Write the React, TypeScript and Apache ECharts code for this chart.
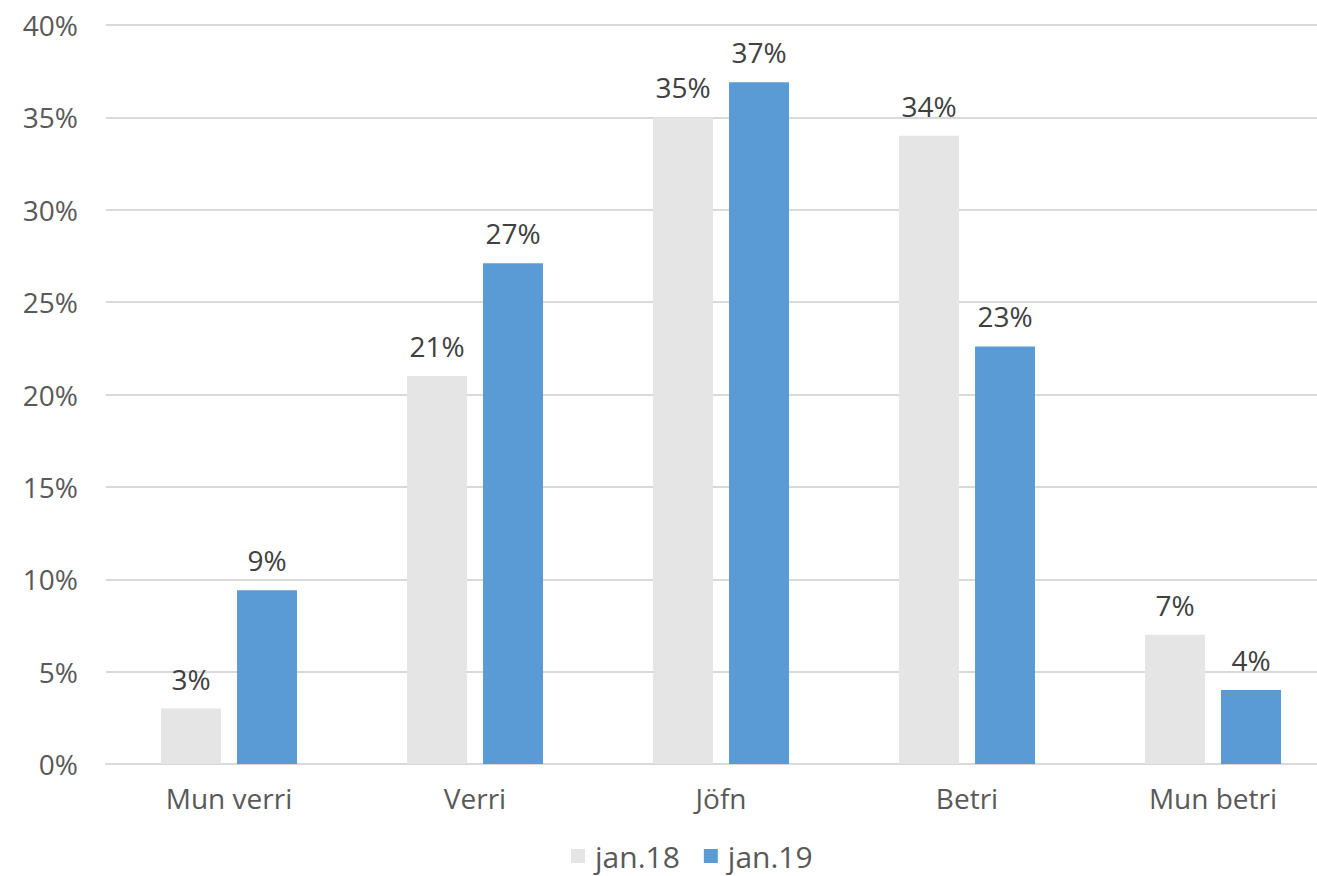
import React, { useEffect, useRef } from "react";
import * as echarts from "echarts";

const categories = ["Mun verri", "Verri", "Jöfn", "Betri", "Mun betri"];
const seriesNames = ["jan.18", "jan.19"];
const jan18 = [3.0, 21.0, 35.0, 34.0, 7.0];
const jan19 = [9.4, 27.1, 36.9, 22.6, 4.0];
const yTicks = { min: 0, max: 40, interval: 5 };

const FONT = "'Open Sans', 'Liberation Sans', Arial, sans-serif";

export default function App() {
  const ref = useRef<HTMLDivElement>(null);
  useEffect(() => {
    document.body.style.margin = "0";
    const chart = echarts.init(ref.current!, null, { renderer: "svg" });
    const label = {
      show: true,
      position: "top",
      distance: 16,
      color: "#404040",
      fontSize: 28,
      fontFamily: FONT,
      formatter: (p: any) => Math.round(p.value) + "%",
    };
    chart.setOption({
      animation: false,
      backgroundColor: "#ffffff",
      grid: { left: 106, right: 0, top: 25, bottom: 112, containLabel: false },
      legend: {
        data: seriesNames,
        bottom: 0,
        left: 566,
        itemWidth: 14,
        itemHeight: 14,
        itemGap: 24,
        icon: "rect",
        textStyle: { color: "#595959", fontSize: 30, fontFamily: FONT, padding: [0, 0, 0, 5] },
      },
      xAxis: {
        type: "category",
        data: categories,
        axisLine: { show: true, lineStyle: { color: "#D9D9D9", width: 2 } },
        axisTick: { show: false },
        axisLabel: { color: "#595959", fontSize: 28, fontFamily: FONT, margin: 20 },
      },
      yAxis: {
        type: "value",
        min: yTicks.min,
        max: yTicks.max,
        interval: yTicks.interval,
        axisLine: { show: false },
        axisTick: { show: false },
        splitLine: { lineStyle: { color: "#D9D9D9", width: 2 } },
        axisLabel: {
          color: "#595959",
          fontSize: 28,
          fontFamily: FONT,
          margin: 28,
          formatter: (v: number) => v + "%",
        },
      },
      series: [
        {
          name: seriesNames[0],
          type: "bar",
          data: jan18,
          barWidth: 60,
          barGap: "26.7%",
          itemStyle: { color: "#E5E5E5" },
          label,
        },
        {
          name: seriesNames[1],
          type: "bar",
          data: jan19,
          barWidth: 60,
          barGap: "26.7%",
          itemStyle: { color: "#5B9BD5" },
          label,
        },
      ],
    });
    return () => chart.dispose();
  }, []);
  return (
    <div style={{ position: "absolute", left: 0, top: 0, width: 1317, height: 876, overflow: "hidden", background: "#fff" }}>
      <div ref={ref} style={{ position: "absolute", left: 0, top: 0, width: 1336, height: 876 }} />
    </div>
  );
}
